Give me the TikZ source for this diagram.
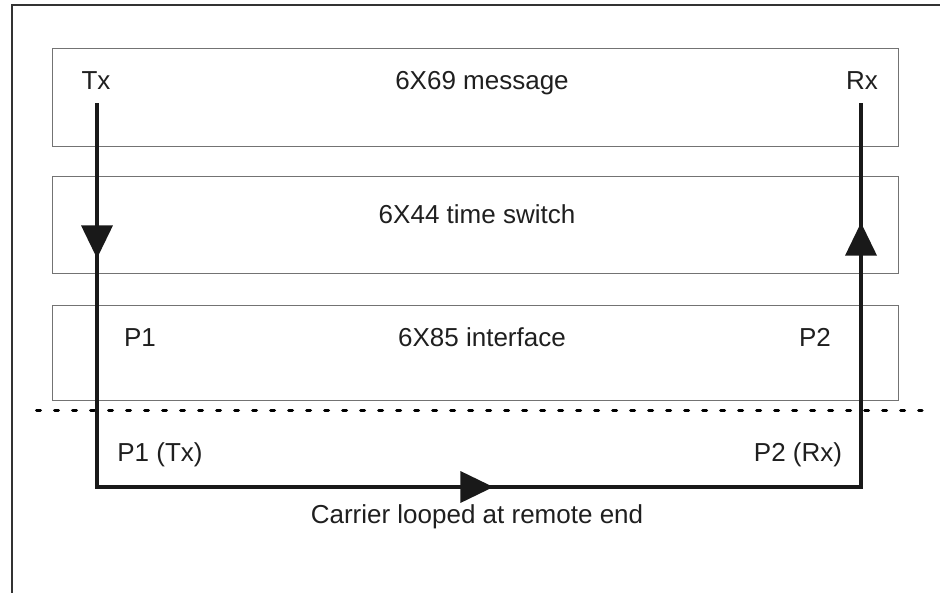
\documentclass[tikz,border=0pt]{standalone}
\usepackage{fontspec}
\setmainfont{Liberation Sans}
\usetikzlibrary{arrows.meta,calc,decorations.markings}
\begin{document}
\begin{tikzpicture}[x=0.5pt, y=-0.5pt,
    font=\fontsize{13pt}{15pt}\selectfont, text=black!88,
    layer/.style={draw=black!55, line width=0.5pt},
    lbl/.style={anchor=base, inner sep=0pt},
    wire/.style={line width=1.8pt, draw=black!90, line join=miter}]
  \useasboundingbox (0,0) rectangle (940,593);
  % marco
  \draw[line width=0.6pt, black!80] (940,5) -- (12,5) -- (12,593);
  % capas
  \draw[layer] (52,49)  rectangle (898,147);
  \draw[layer] (52,177) rectangle (898,273);
  \draw[layer] (52,305) rectangle (898,400);
  \node[lbl] (msg) at (482,90)  {6X69 message};
  \node[lbl] (tsw) at (477,223) {6X44 time switch};
  \node[lbl] (ifc) at (482,346) {6X85 interface};
  \node[lbl] (p1)  at (140,346) {P1};
  \node[lbl] (p2)  at (815,346) {P2};
  % extremos
  \node[lbl] (tx) at (96,90)  {Tx};
  \node[lbl] (rx) at (862,90) {Rx};
  % frontera
  \draw[line width=1.5pt, dash pattern=on 2pt off 7pt, line cap=round] (36.5,410) -- (922,410);
  \node[lbl] (p1tx)    at (160,461) {P1 (Tx)};
  \node[lbl] (p2rx)    at (798,461) {P2 (Rx)};
  \node[lbl] (carrier) at (477,523) {Carrier looped at remote end};
  % bucle
  \coordinate (bl) at (97,487);
  \coordinate (br) at (861,487);
  \draw[wire, postaction={decorate, decoration={markings,
      mark=at position 77.5pt with {\arrow{Triangle[length=16.5pt,width=15.5pt]}},
      mark=at position 390pt with {\arrow{Triangle[length=16.5pt,width=15.5pt]}},
      mark=at position 706pt with {\arrow{Triangle[length=16.5pt,width=15.5pt]}}}}]
    ($(tx.south)+(1,13)$) -- (bl) -- (br) -- ($(rx.south)+(-1,13)$);
\end{tikzpicture}
\end{document}
